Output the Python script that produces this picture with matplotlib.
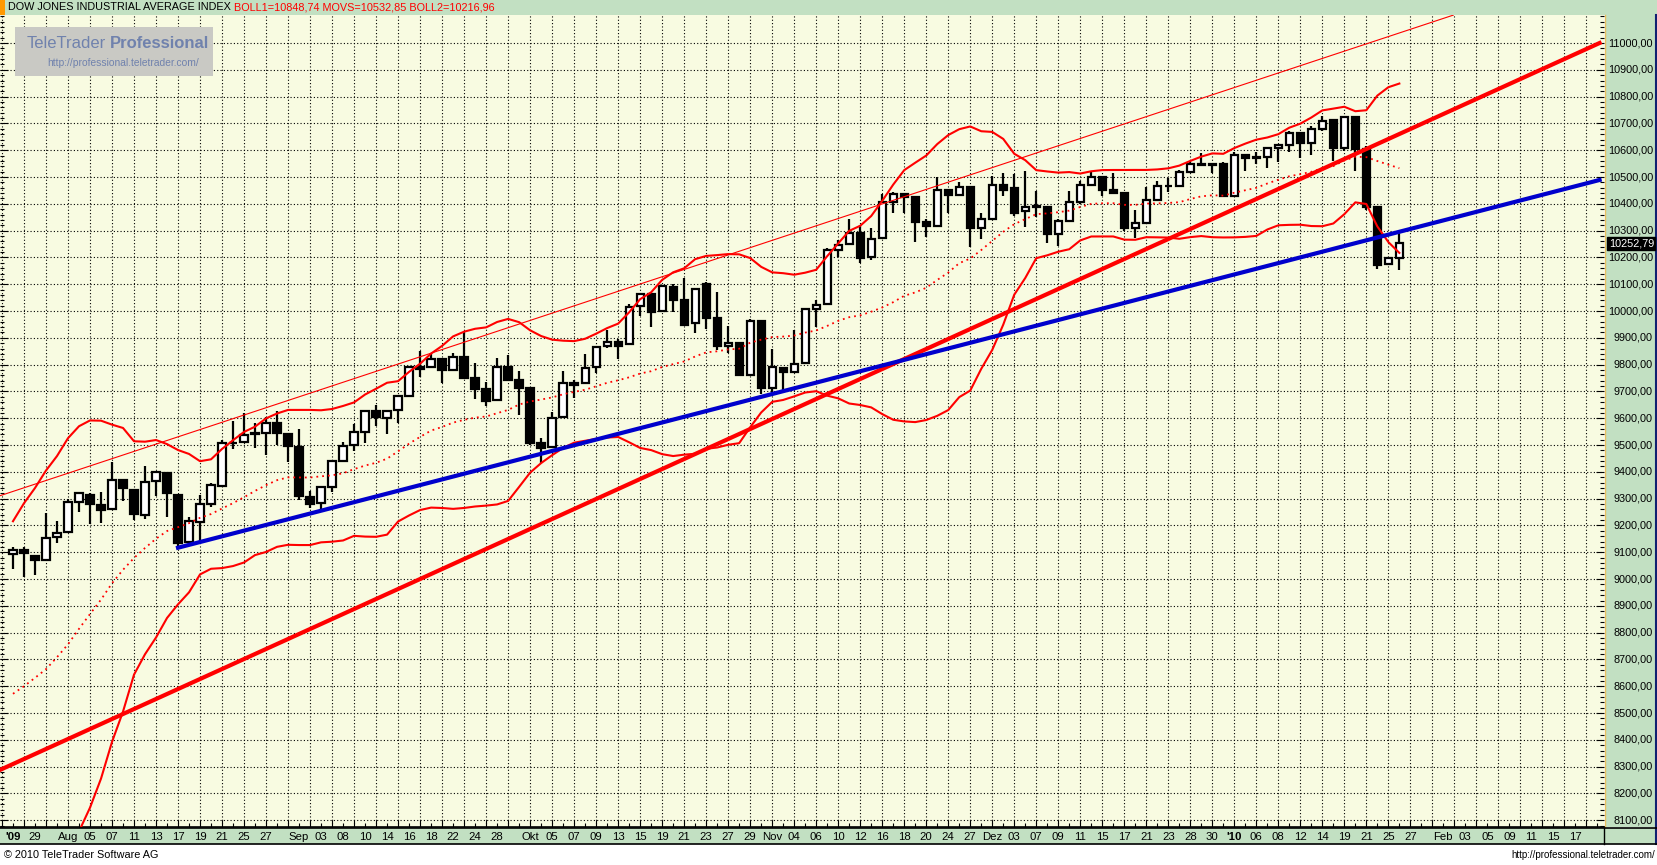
import numpy as np
import pandas as pd
import matplotlib.pyplot as plt
import matplotlib.transforms as mtrans
from matplotlib.patches import Rectangle

# closes before the visible window (needed for the 20 day bollinger bands)
prior_close = [8529.38, 8447.00, 8504.06, 8280.74, 8324.87, 8163.60, 8178.41, 8183.17, 8146.52, 8331.68,
               8359.49, 8616.21, 8711.82, 8743.94, 8848.15, 8915.94, 8881.26, 9069.29, 9093.24]

# daily candles 27.07.2009 - 26.01.2010 (open, high, low, close)
opens = [9093, 9108, 9087, 9073, 9156, 9174, 9289, 9313, 9276, 9260,
         9369, 9332, 9239, 9366, 9397, 9312, 9137, 9212, 9279, 9348,
         9506, 9510, 9540, 9544, 9581, 9541, 9491, 9305, 9283, 9345,
         9442, 9500, 9547, 9627, 9602, 9631, 9684, 9790, 9790, 9820,
         9780, 9830, 9749, 9708, 9668, 9790, 9743, 9712, 9506, 9494,
         9606, 9731, 9730, 9790, 9870, 9885, 9876, 10019, 10062, 10000,
         10091, 10041, 9954, 10100, 9973, 9868, 9882, 9763, 9963, 9713,
         9789, 9772, 9806, 10007, 10026, 10228, 10250, 10290, 10203, 10271,
         10407, 10437, 10426, 10332, 10318, 10451, 10434, 10464, 10310, 10345,
         10472, 10458, 10375, 10389, 10387, 10286, 10337, 10406, 10471, 10501,
         10452, 10441, 10308, 10329, 10414, 10465, 10466, 10520, 10547, 10545,
         10548, 10430, 10584, 10572, 10574, 10607, 10618, 10664, 10627, 10681,
         10711, 10610, 10725, 10603, 10389, 10175, 10198]
highs = [9121, 9121, 9090, 9245, 9218, 9299, 9325, 9320, 9326, 9438,
         9372, 9335, 9422, 9405, 9400, 9315, 9230, 9312, 9360, 9519,
         9590, 9618, 9581, 9606, 9628, 9545, 9559, 9328, 9348, 9445,
         9510, 9578, 9630, 9649, 9630, 9686, 9795, 9852, 9840, 9822,
         9842, 9923, 9805, 9734, 9823, 9835, 9776, 9715, 9525, 9625,
         9776, 9743, 9840, 9870, 9929, 9894, 10026, 10068, 10065, 10097,
         10101, 10122, 10085, 10107, 10072, 9945, 9885, 9969, 9966, 9858,
         9790, 9929, 10010, 10041, 10234, 10265, 10342, 10321, 10309, 10437,
         10445, 10440, 10428, 10343, 10499, 10455, 10483, 10466, 10367, 10504,
         10516, 10510, 10522, 10449, 10390, 10345, 10448, 10486, 10520, 10505,
         10514, 10445, 10377, 10461, 10485, 10495, 10525, 10558, 10588, 10553,
         10555, 10593, 10585, 10593, 10610, 10622, 10673, 10666, 10690, 10726,
         10711, 10729, 10725, 10614, 10390, 10200, 10291]
lows = [9036, 9006, 9014, 9071, 9133, 9172, 9251, 9205, 9210, 9258,
        9292, 9220, 9223, 9310, 9233, 9118, 9135, 9139, 9268, 9346,
        9485, 9506, 9488, 9463, 9500, 9438, 9295, 9264, 9258, 9326,
        9440, 9479, 9509, 9572, 9541, 9583, 9682, 9753, 9786, 9730,
        9778, 9746, 9671, 9646, 9666, 9740, 9611, 9499, 9432, 9490,
        9600, 9677, 9728, 9768, 9862, 9820, 9872, 9981, 9942, 9995,
        9998, 9948, 9919, 9934, 9855, 9842, 9761, 9760, 9690, 9693,
        9705, 9770, 9805, 9939, 10024, 10203, 10245, 10178, 10190, 10270,
        10367, 10364, 10259, 10277, 10316, 10365, 10429, 10240, 10267, 10343,
        10429, 10355, 10315, 10350, 10255, 10243, 10337, 10400, 10470, 10429,
        10439, 10300, 10271, 10325, 10410, 10445, 10465, 10514, 10540, 10514,
        10428, 10430, 10524, 10549, 10534, 10556, 10593, 10571, 10583, 10670,
        10561, 10596, 10521, 10378, 10158, 10170, 10152]
closes = [9108.51, 9096.72, 9070.72, 9154.46, 9171.61, 9286.56, 9320.19, 9280.97, 9256.26, 9370.07,
          9337.95, 9241.45, 9361.61, 9398.19, 9321.40, 9135.34, 9217.94, 9279.16, 9350.05, 9505.96,
          9509.28, 9539.29, 9543.52, 9580.63, 9544.20, 9496.28, 9310.60, 9280.67, 9344.61, 9441.27,
          9497.34, 9547.22, 9627.48, 9605.41, 9626.80, 9683.41, 9791.71, 9783.92, 9820.20, 9778.86,
          9829.87, 9748.55, 9707.44, 9665.19, 9789.36, 9742.20, 9712.28, 9509.28, 9487.67, 9599.75,
          9731.25, 9725.58, 9786.87, 9864.94, 9885.80, 9871.06, 10015.86, 10062.94, 9995.91, 10092.19,
          10041.48, 9949.36, 10081.31, 9972.18, 9867.96, 9882.17, 9762.69, 9962.58, 9712.73, 9789.44,
          9771.91, 9802.14, 10005.96, 10023.42, 10226.94, 10246.97, 10291.26, 10197.47, 10270.47, 10406.96,
          10437.42, 10426.31, 10332.44, 10318.16, 10450.95, 10433.71, 10464.40, 10309.92, 10344.84, 10471.58,
          10452.68, 10366.15, 10388.90, 10390.11, 10285.97, 10337.05, 10405.83, 10471.50, 10501.05, 10452.00,
          10441.12, 10308.26, 10328.89, 10414.14, 10464.93, 10466.44, 10520.10, 10547.08, 10545.41, 10548.51,
          10428.05, 10583.96, 10572.02, 10573.68, 10606.86, 10618.19, 10663.99, 10627.26, 10680.77, 10710.55,
          10609.65, 10725.43, 10603.15, 10389.88, 10172.98, 10196.86, 10252.79]
last_price = 10252.79

# date labels (trading day index, text)
label_idx = [0, 2, 5, 7, 9, 11, 13, 15, 17, 19, 21, 23, 26, 28, 30, 32, 34, 36, 38, 40, 42, 44,
             47, 49, 51, 53, 55, 57, 59, 61, 63, 65, 67, 69, 71, 73, 75, 77, 79, 81, 83, 85, 87,
             89, 91, 93, 95, 97, 99, 101, 103, 105, 107, 109, 111, 113, 115, 117, 119, 121, 123,
             125, 127, 130, 132, 134, 136, 138, 140, 142]
label_txt = ["'09", "29", "Aug", "05", "07", "11", "13", "17", "19", "21", "25", "27",
             "Sep", "03", "08", "10", "14", "16", "18", "22", "24", "28",
             "Okt", "05", "07", "09", "13", "15", "19", "21", "23", "27", "29",
             "Nov", "04", "06", "10", "12", "16", "18", "20", "24", "27",
             "Dez", "03", "07", "09", "11", "15", "17", "21", "23", "28", "30",
             "'10", "06", "08", "12", "14", "19", "21", "25", "27",
             "Feb", "03", "05", "09", "11", "15", "17"]

# hand drawn trend lines (index, price) end points
thin_red_x, thin_red_y = [-1.18, 130.9], [9311, 11104]
thick_red_x, thick_red_y = [-1.18, 144.2], [8288, 11000]
blue_x, blue_y = [15.0, 144.2], [9117, 10489]

W, H = 1657, 865
def fx(px):
    return px / W
def fy(py):
    return 1 - py / H

green = '#c2e0c2'
fig = plt.figure(figsize=(W / 100, H / 100), dpi=100)
fig.patch.set_facecolor('white')

ax = fig.add_axes([0, fy(827), fx(1604), (827 - 15) / H])
ax.set_zorder(3)
ax.set_facecolor('#f8fbe1')
ax.set_xlim(-1.18, 144.6)
ax.set_ylim(8075, 11104.5)

# bollinger bands 20 / 2
s = pd.Series(prior_close + closes)
mid = s.rolling(20).mean().iloc[len(prior_close):].values
sd = s.rolling(20).std(ddof=0).iloc[len(prior_close):].values
x = np.arange(len(closes))

# grid + ticks
ax.set_yticks(np.arange(8100, 11001, 100))
ax.set_yticks(np.arange(8080, 11101, 20), minor=True)
ax.set_xticks(np.arange(-1, 145, 2))
ax.set_xticks(np.arange(-1, 145, 1), minor=True)
ax.grid(True, which='major', color='black', linestyle=(0, (1, 2)), linewidth=0.8)
ax.tick_params(axis='y', which='both', left=True, right=True, direction='in',
               labelleft=False, labelright=False)
ax.tick_params(axis='y', which='major', length=6, width=0.8)
ax.tick_params(axis='y', which='minor', length=3, width=0.8)
ax.tick_params(axis='x', which='both', bottom=True, top=False, direction='in', labelbottom=False)
ax.tick_params(axis='x', which='major', length=5, width=0.8)
ax.tick_params(axis='x', which='minor', length=3, width=0.8)
for sp in ax.spines.values():
    sp.set_visible(False)
ax.spines['bottom'].set_visible(True)
ax.spines['bottom'].set_linewidth(1.2)

# candles
o = np.array(opens, float)
c = np.array(closes, float)
ax.vlines(x, lows, highs, color='black', linewidth=1.6, zorder=3)
body_col = ['white' if cc >= oo else 'black' for oo, cc in zip(o, c)]
ax.bar(x, np.abs(c - o), bottom=np.minimum(o, c), width=0.66, color=body_col,
       edgecolor='black', linewidth=1.6, zorder=4)

# indicator lines
ax.plot(x, mid + 2 * sd, color='#ff0000', linewidth=1.5, zorder=5)
ax.plot(x, mid - 2 * sd, color='#ff0000', linewidth=1.5, zorder=5)
ax.plot(x, mid, color='#ff0000', linewidth=1.3, linestyle=(0, (1, 2.2)), zorder=5)
ax.plot(thin_red_x, thin_red_y, color='#ff0000', linewidth=0.8, zorder=5)
ax.plot(thick_red_x, thick_red_y, color='#ff0000', linewidth=3, zorder=6)
ax.plot(blue_x, blue_y, color='#0000cc', linewidth=3, zorder=6)

# header
fig.patches.append(Rectangle((0, fy(15)), 1, 15 / H, transform=fig.transFigure,
                             facecolor=green, edgecolor='none', zorder=1))
fig.patches.append(Rectangle((0, fy(15)), fx(5), 15 / H, transform=fig.transFigure,
                             facecolor='#ff9900', edgecolor='none', zorder=2))
fig.text(fx(8), fy(7.5), 'DOW JONES INDUSTRIAL AVERAGE INDEX', fontsize=7.8,
         family='Liberation Sans', va='center', ha='left', color='black')
fig.text(fx(234), fy(7.5), 'BOLL1=10848,74 MOVS=10532,85 BOLL2=10216,96', fontsize=7.8,
         family='Liberation Sans', va='center', ha='left', color='#ff0000')

# watermark
fig.patches.append(Rectangle((fx(15), fy(76)), fx(198), 49 / H, transform=fig.transFigure,
                             facecolor='#c9c9c4', edgecolor='none', zorder=5))
wm = fig.text(fx(27), fy(44), 'TeleTrader', fontsize=12, family='Liberation Sans',
              color='#7082ad', va='center', ha='left', zorder=6)
r = fig.canvas.get_renderer()
bb = wm.get_window_extent(renderer=r)
fig.text(fx(bb.x1 + 4), fy(44), 'Professional', fontsize=12, family='Liberation Sans',
         fontweight='bold', color='#7082ad', va='center', ha='left', zorder=6)
fig.text(fx(47), fy(63), 'http://professional.teletrader.com/', fontsize=7.4,
         family='Liberation Sans', color='#7082ad', va='center', ha='left', zorder=6)

# right price panel
fig.patches.append(Rectangle((fx(1605), fy(827)), fx(52), 812 / H, transform=fig.transFigure,
                             facecolor=green, edgecolor='none', zorder=1))
fig.lines.append(plt.Line2D([fx(1605), fx(1605)], [fy(827), fy(15)], transform=fig.transFigure,
                            color='#e8c060', linewidth=1, zorder=2))
fig.lines.append(plt.Line2D([fx(1656), fx(1656)], [fy(844), fy(15)], transform=fig.transFigure,
                            color='#102070', linewidth=1.5, zorder=2))
ytr = mtrans.blended_transform_factory(fig.transFigure, ax.transData)
for p in range(8100, 11001, 100):
    ax.text(fx(1653), p, '%d,00' % p, transform=ytr, fontsize=7.8, family='Liberation Sans',
            ha='right', va='center', clip_on=False)
ax.text(fx(1654), last_price, ('%.2f' % last_price).replace('.', ','), transform=ytr,
        fontsize=7.8, family='Liberation Sans', ha='right', va='center', color='white',
        clip_on=False, zorder=10,
        bbox=dict(boxstyle='square,pad=0.12', facecolor='black', edgecolor='black'))

# date axis band
fig.patches.append(Rectangle((0, fy(844)), 1, 16 / H, transform=fig.transFigure,
                             facecolor=green, edgecolor='none', zorder=1))
for yy in (828, 844):
    fig.lines.append(plt.Line2D([0, 1], [fy(yy), fy(yy)], transform=fig.transFigure,
                                color='black', linewidth=1.2, zorder=2))
fig.lines.append(plt.Line2D([fx(1604), fx(1604)], [fy(844), fy(828)], transform=fig.transFigure,
                            color='black', linewidth=1, zorder=2))
xtr = mtrans.blended_transform_factory(ax.transData, fig.transFigure)
for i, t in zip(label_idx, label_txt):
    bold = t.startswith("'")
    ax.text(i, fy(836.5), t, transform=xtr, fontsize=8.2, family='Liberation Sans',
            fontweight='bold' if bold else 'normal', ha='center', va='center', clip_on=False)

# footer
fig.text(fx(4), fy(855), '\u00a9 2010 TeleTrader Software AG', fontsize=7.8,
         family='Liberation Sans', ha='left', va='center')
fig.text(fx(1655), fy(855), 'http://professional.teletrader.com/', fontsize=7,
         family='Liberation Sans', ha='right', va='center')

fig.savefig('out.png', dpi=100)
